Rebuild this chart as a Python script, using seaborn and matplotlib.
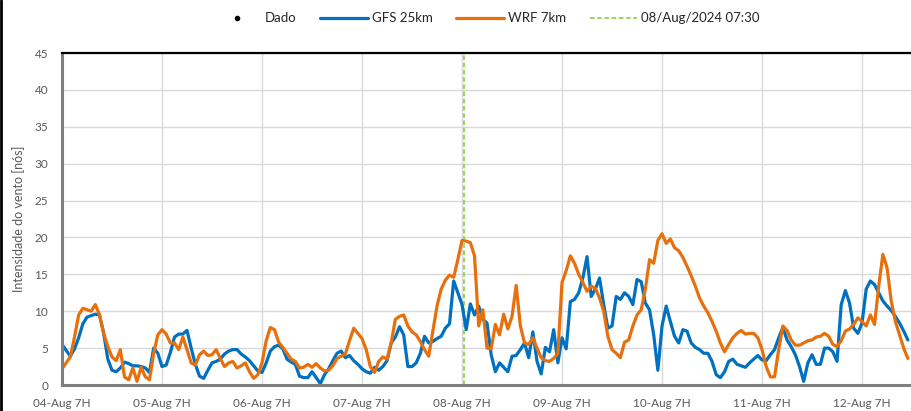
import matplotlib
matplotlib.use('Agg')
import matplotlib.pyplot as plt
from matplotlib.lines import Line2D
import seaborn as sns
import pandas as pd

# Intensidade do vento (nós), valores horários a partir de 04-Aug 07H
gfs_25km = [
    5.5, 4.7, 3.9, 4.9, 6.4, 8.3, 9.2, 9.4, 9.6, 9.5, 7.0, 3.5, 2.0, 1.8, 2.3, 3.1, 2.9, 2.6, 2.6, 2.5, 2.3, 1.7, 5.0, 4.3,
    2.5, 2.7, 4.4, 6.5, 6.9, 6.9, 7.4, 5.0, 2.8, 1.2, 0.9, 2.0, 3.0, 3.2, 3.5, 4.2, 4.6, 4.8, 4.8, 4.2, 3.8, 3.3, 2.6, 1.9,
    1.7, 3.0, 4.6, 5.2, 5.4, 4.9, 3.5, 3.1, 2.8, 1.2, 1.0, 1.0, 1.8, 1.0, 0.2, 1.4, 2.2, 3.3, 4.3, 4.6, 3.7, 4.0, 3.3, 2.8,
    2.2, 1.8, 1.6, 2.4, 2.0, 2.5, 3.3, 5.7, 6.5, 7.9, 6.8, 2.5, 2.5, 3.0, 4.3, 6.6, 5.7, 5.9, 6.3, 6.6, 7.7, 8.3, 14.1, 12.5,
    10.9, 7.5, 11.0, 9.5, 10.7, 8.9, 8.4, 4.1, 1.8, 3.0, 2.4, 1.8, 3.9, 4.0, 4.8, 5.7, 3.7, 7.2, 3.2, 1.5, 5.1, 4.5, 7.5, 3.0,
    6.4, 4.9, 11.3, 11.6, 12.5, 14.5, 17.4, 12.0, 13.0, 14.5, 10.9, 7.7, 8.0, 12.0, 11.6, 12.5, 12.0, 10.9, 14.3, 14.0, 11.1, 10.2, 6.8, 2.0,
    8.0, 10.7, 8.6, 6.6, 5.7, 7.5, 7.3, 5.7, 5.1, 4.8, 4.3, 4.3, 3.2, 1.4, 1.0, 1.8, 3.2, 3.5, 2.8, 2.6, 2.4, 3.0, 3.5, 4.0,
    3.4, 3.3, 4.1, 4.8, 6.4, 7.8, 6.1, 5.2, 4.1, 2.5, 0.5, 3.0, 4.1, 2.8, 2.8, 5.0, 5.0, 4.5, 3.2, 10.9, 12.8, 11.1, 7.7, 7.0,
    8.4, 13.0, 14.1, 13.6, 12.5, 11.4, 10.7, 10.1, 9.3, 8.4, 7.3, 6.1,
]
wrf_7km = [
    2.2, 3.0, 3.8, 6.5, 9.5, 10.4, 10.2, 10.0, 10.9, 9.5, 7.0, 5.2, 3.8, 3.3, 4.8, 1.1, 0.7, 2.3, 0.5, 2.4, 1.1, 0.7, 4.3, 6.8,
    7.5, 6.9, 5.7, 5.7, 4.8, 6.5, 4.8, 3.0, 2.7, 4.1, 4.6, 4.0, 4.1, 4.8, 3.6, 2.5, 3.0, 3.2, 2.3, 2.6, 3.0, 1.8, 0.9, 1.4,
    3.0, 6.0, 7.8, 7.5, 5.8, 5.1, 4.3, 3.5, 3.2, 2.3, 2.4, 2.8, 2.4, 2.9, 2.3, 1.9, 2.0, 2.6, 3.6, 3.9, 4.2, 6.0, 7.7, 7.0,
    6.3, 4.8, 2.5, 1.7, 3.2, 3.8, 3.5, 5.7, 8.9, 9.3, 9.5, 8.0, 7.2, 6.8, 5.9, 4.8, 3.9, 7.3, 10.7, 13.0, 14.2, 14.9, 14.6, 17.0,
    19.6, 19.5, 19.3, 17.5, 8.0, 10.2, 5.0, 4.9, 8.2, 6.8, 9.6, 7.6, 9.3, 13.5, 8.0, 5.7, 5.5, 6.4, 5.0, 3.7, 3.3, 3.2, 3.6, 4.3,
    13.9, 15.5, 17.5, 16.5, 15.0, 13.9, 12.7, 13.4, 13.1, 11.8, 10.0, 6.6, 4.8, 4.3, 3.7, 5.8, 6.1, 8.0, 9.5, 10.2, 13.0, 17.0, 16.5, 19.6,
    20.5, 19.2, 19.8, 18.6, 18.2, 17.3, 16.1, 14.8, 13.4, 11.8, 10.7, 9.8, 8.6, 7.3, 5.7, 4.5, 5.5, 6.4, 7.0, 7.4, 6.9, 7.0, 7.0, 6.4,
    4.8, 2.5, 1.1, 1.1, 4.8, 8.0, 7.4, 6.1, 5.4, 5.4, 5.7, 6.0, 6.1, 6.5, 6.6, 7.0, 6.6, 5.5, 5.2, 6.0, 7.3, 7.6, 8.2, 9.1,
    8.6, 8.0, 9.5, 8.2, 13.4, 17.7, 15.9, 11.4, 8.6, 6.8, 5.0, 3.6,
]
start = pd.Timestamp('2024-08-04 07:00')
marco = pd.Timestamp('2024-08-08 07:30')
tick_days = pd.date_range(start, periods=9, freq='D')
tick_labels = [f"{d:%d-%b} {d.hour}H" for d in tick_days]

times = pd.date_range(start, periods=len(gfs_25km), freq='h')
df = pd.DataFrame({'tempo': times, 'GFS 25km': gfs_25km, 'WRF 7km': wrf_7km})

sns.set_style('whitegrid')
plt.rcParams['font.family'] = ['Lato', 'DejaVu Sans']

BLUE = '#0070C0'
ORANGE = '#E8700C'
GREEN = '#92D050'
GREY_TXT = '#595959'

fig = plt.figure(figsize=(9.11, 4.11), dpi=100)
ax = fig.add_axes([62 / 911, 1 - 385 / 411, 1 - 62 / 911, (385 - 53) / 411])

ax.axvline(marco, color=GREEN, linestyle=(0, (2.5, 1.5)), linewidth=1.3, zorder=1.5)
sns.lineplot(data=df, x='tempo', y='GFS 25km', color=BLUE, linewidth=2.3, ax=ax, legend=False, zorder=2)
sns.lineplot(data=df, x='tempo', y='WRF 7km', color=ORANGE, linewidth=2.3, ax=ax, legend=False, zorder=2.1)

ax.set_ylim(0, 45)
ax.set_yticks(range(0, 50, 5))
ax.set_xlim(start, start + pd.Timedelta(hours=203.75))
ax.set_xticks(tick_days)
ax.set_xticklabels(tick_labels)
ax.tick_params(axis='both', length=0, colors=GREY_TXT, labelsize=8.5)
ax.tick_params(axis='x', pad=9)
ax.tick_params(axis='y', pad=10)
ax.set_xlabel('')
ax.set_ylabel('Intensidade do vento [nós]', color=GREY_TXT, fontsize=9, labelpad=7)

ax.grid(True, color='#d9d9d9', linewidth=1)
ax.set_axisbelow(True)
for side in ['left', 'bottom']:
    ax.spines[side].set_color('#7f7f7f')
    ax.spines[side].set_linewidth(2.2)
ax.spines['top'].set_color('black')
ax.spines['top'].set_linewidth(1.6)
ax.spines['right'].set_visible(False)

handles = [
    Line2D([], [], marker='o', linestyle='none', color='black', markersize=3),
    Line2D([], [], color=BLUE, linewidth=2.3),
    Line2D([], [], color=ORANGE, linewidth=2.3),
    Line2D([], [], color=GREEN, linestyle=(0, (2.5, 1.5)), linewidth=1.3),
]
labels = ['Dado', 'GFS 25km', 'WRF 7km', '08/Aug/2024 07:30']
leg = ax.legend(handles, labels, loc='center', bbox_to_anchor=(0.5, 1.105), ncol=4,
                frameon=False, fontsize=9.5, handlelength=3.6, columnspacing=1.8,
                handletextpad=0.3)
for t in leg.get_texts():
    t.set_color('#262626')

# borda preta à esquerda do quadro
fig.add_artist(Line2D([0.0015, 0.0015], [0, 1], color='black', linewidth=2, transform=fig.transFigure))

fig.savefig('out.png', dpi=100)
